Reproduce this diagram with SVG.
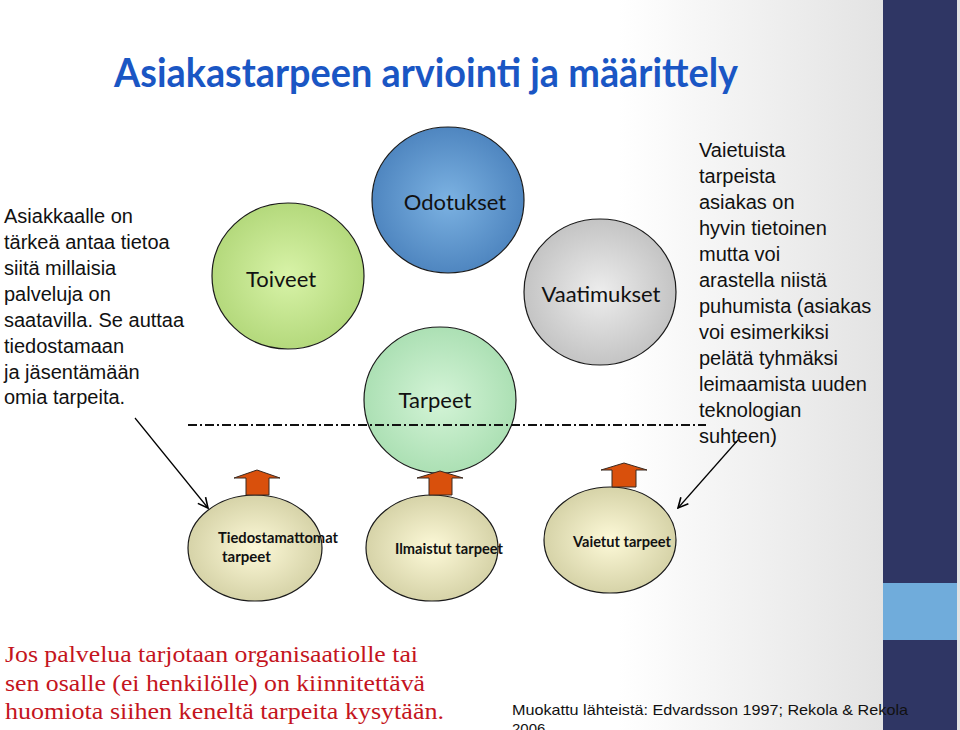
<svg xmlns="http://www.w3.org/2000/svg" width="960" height="730" viewBox="0 0 960 730">
<defs>
<linearGradient id="bg" x1="0" y1="0" x2="883" y2="0" gradientUnits="userSpaceOnUse">
<stop offset="0" stop-color="#ffffff"/><stop offset="0.7" stop-color="#ffffff"/><stop offset="1" stop-color="#e3e3e3"/>
</linearGradient>
<radialGradient id="gGreen"><stop offset="0" stop-color="#d8f3a8"/><stop offset="1" stop-color="#b4d97c"/></radialGradient>
<radialGradient id="gBlue"><stop offset="0" stop-color="#7cb2e2"/><stop offset="1" stop-color="#4f86c0"/></radialGradient>
<radialGradient id="gGray"><stop offset="0" stop-color="#ededed"/><stop offset="1" stop-color="#c4c4c4"/></radialGradient>
<radialGradient id="gMint"><stop offset="0" stop-color="#d4f4d7"/><stop offset="1" stop-color="#ace0b4"/></radialGradient>
<radialGradient id="gCream"><stop offset="0" stop-color="#fdf9d8"/><stop offset="1" stop-color="#d6d3a8"/></radialGradient>
<marker id="open" viewBox="0 0 12 12" refX="11" refY="6" markerWidth="12" markerHeight="12" markerUnits="userSpaceOnUse" orient="auto">
<path d="M1,1 L11,6 L1,11" fill="none" stroke="#000" stroke-width="1.6"/>
</marker>
</defs>
<style>
.circ{stroke:#1a1a1a;stroke-width:1.2}
.lbl{font-family:Lato,"Open Sans",sans-serif;font-size:22px;fill:#111;text-anchor:middle}
.sm{font-family:Lato,"Open Sans",sans-serif;font-size:15px;font-weight:bold;fill:#111}
.body{font-family:"Liberation Sans",Arial,sans-serif;font-size:20px;fill:#111}
.red{font-family:"Liberation Serif","Times New Roman",serif;font-size:23.5px;fill:#c41420}
.up{fill:#d9500c;stroke:#3a2a20;stroke-width:1}
.thin{stroke:#000;stroke-width:1.2;fill:none;marker-end:url(#open)}
</style>
<rect x="0" y="0" width="960" height="730" fill="url(#bg)"/>
<rect x="883" y="0" width="74" height="583" fill="#2f3664"/>
<rect x="883" y="583" width="74" height="57" fill="#70acdb"/>
<rect x="883" y="640" width="74" height="90" fill="#2f3664"/>

<text x="114" y="87" font-family="Lato,'Open Sans',sans-serif" font-weight="bold" font-size="40" fill="#1a56c4" textLength="624" lengthAdjust="spacingAndGlyphs">Asiakastarpeen arviointi ja määrittely</text>

<g id="left-text" class="body">
<text x="4" y="223">Asiakkaalle on</text>
<text x="4" y="249">tärkeä antaa tietoa</text>
<text x="4" y="275">siitä millaisia</text>
<text x="4" y="301">palveluja on</text>
<text x="4" y="327">saatavilla. Se auttaa</text>
<text x="4" y="353">tiedostamaan</text>
<text x="4" y="379">ja jäsentämään</text>
<text x="4" y="404">omia tarpeita.</text>
</g>

<g id="toiveet"><ellipse class="circ" cx="288" cy="276" rx="76" ry="73" fill="url(#gGreen)"/><text class="lbl" x="281" y="287">Toiveet</text></g>
<g id="odotukset"><ellipse class="circ" cx="448" cy="200" rx="76" ry="73" fill="url(#gBlue)"/><text class="lbl" x="455" y="210">Odotukset</text></g>
<g id="vaatimukset"><ellipse class="circ" cx="600" cy="292" rx="76" ry="73" fill="url(#gGray)"/><text class="lbl" x="601" y="302">Vaatimukset</text></g>
<g id="tarpeet"><ellipse class="circ" cx="440" cy="400" rx="76" ry="73" fill="url(#gMint)"/><text class="lbl" x="435" y="408">Tarpeet</text></g>

<g id="right-text" class="body">
<text x="699" y="157">Vaietuista</text>
<text x="699" y="183">tarpeista</text>
<text x="699" y="209">asiakas on</text>
<text x="699" y="235">hyvin tietoinen</text>
<text x="699" y="261">mutta voi</text>
<text x="699" y="287">arastella niistä</text>
<text x="699" y="313">puhumista (asiakas</text>
<text x="699" y="339">voi esimerkiksi</text>
<text x="699" y="365">pelätä tyhmäksi</text>
<text x="699" y="391">leimaamista uuden</text>
<text x="699" y="417">teknologian</text>
<text x="699" y="443">suhteen)</text>
</g>

<g id="tiedostamattomat"><ellipse class="circ" cx="255" cy="548" rx="67" ry="53" fill="url(#gCream)"/><text class="sm" x="218" y="543" textLength="120" lengthAdjust="spacingAndGlyphs">Tiedostamattomat</text><text class="sm" x="222" y="562">tarpeet</text></g>
<g id="ilmaistut"><ellipse class="circ" cx="432" cy="548" rx="66" ry="53" fill="url(#gCream)"/><text class="sm" x="395" y="554" textLength="108" lengthAdjust="spacingAndGlyphs">Ilmaistut tarpeet</text></g>
<g id="vaietut"><ellipse class="circ" cx="610" cy="540" rx="66" ry="53" fill="url(#gCream)"/><text class="sm" x="573" y="547" textLength="98" lengthAdjust="spacingAndGlyphs">Vaietut tarpeet</text></g>

<g id="connectors">
<line x1="188" y1="425" x2="706" y2="425" stroke="#111" stroke-width="2" stroke-dasharray="9 3 2 3"/>
<path class="up" d="M246,495 L246,478 L234,478 L257,470 L280,478 L269,478 L269,495 Z"/>
<path class="up" d="M429,495 L429,478 L417,478 L440,471 L463,478 L452,478 L452,495 Z"/>
<path class="up" d="M612,487 L612,470 L601,470 L624,463 L647,470 L636,470 L636,487 Z"/>
<line class="thin" x1="135" y1="418" x2="208" y2="508"/>
<line class="thin" x1="738" y1="440" x2="678" y2="508"/>
</g>

<g id="bottom-text">
<text class="red" x="5" y="662" textLength="413" lengthAdjust="spacingAndGlyphs">Jos palvelua tarjotaan organisaatiolle tai</text>
<text class="red" x="5" y="691" textLength="420" lengthAdjust="spacingAndGlyphs">sen osalle (ei henkilölle) on kiinnitettävä</text>
<text class="red" x="5" y="719" textLength="439" lengthAdjust="spacingAndGlyphs">huomiota siihen keneltä tarpeita kysytään.</text>
<text x="512" y="715" font-family="'Liberation Sans',Arial,sans-serif" font-size="15" fill="#111" textLength="396" lengthAdjust="spacingAndGlyphs">Muokattu lähteistä: Edvardsson 1997; Rekola &amp; Rekola</text>
<text x="512" y="734" font-family="'Liberation Sans',Arial,sans-serif" font-size="15" fill="#111">2006</text>
</g>
</svg>
